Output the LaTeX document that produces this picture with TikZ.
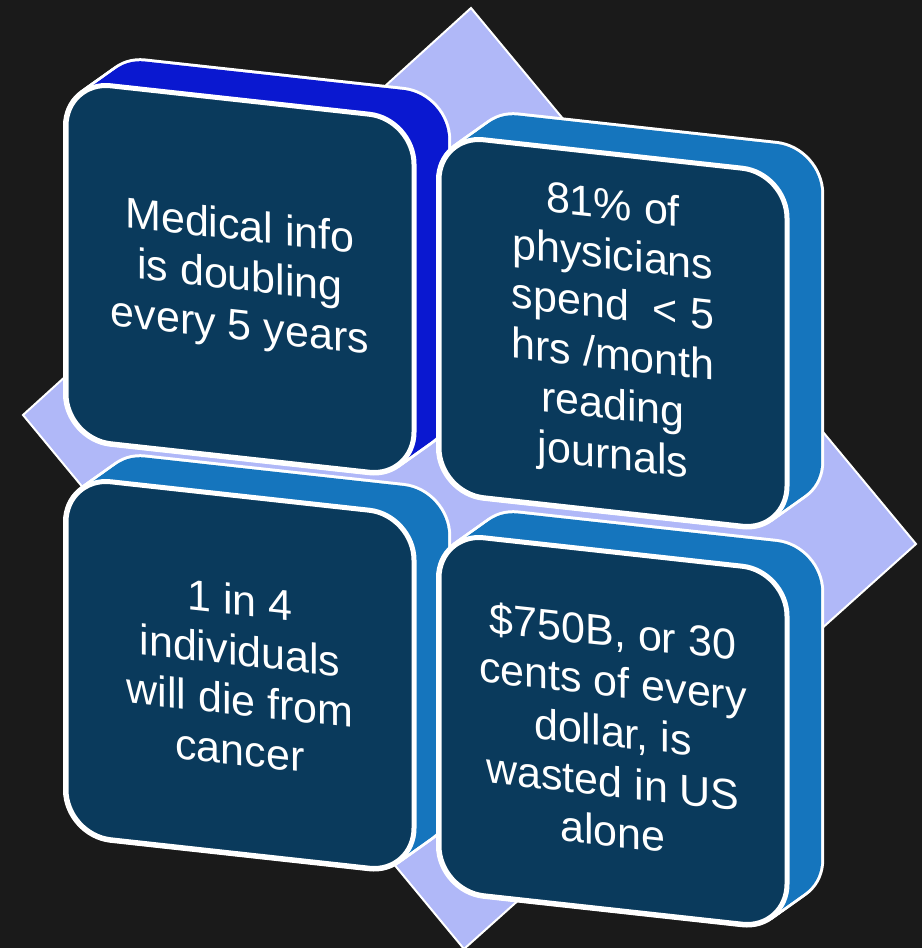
\documentclass[tikz,border=0pt]{standalone}
\usepackage{fontspec}
\setmainfont{Liberation Sans}
\definecolor{bgdark}{HTML}{1A1A1A}
\definecolor{lavender}{HTML}{B0B8F8}
\definecolor{navy}{HTML}{0A3A5C}
\definecolor{royal}{HTML}{0A18D0}
\definecolor{steel}{HTML}{1575BD}

\begin{document}
\begin{tikzpicture}[x=1pt, y=-1pt,
    face/.style={rectangle, rounded corners=45pt, minimum width=348pt,
                 minimum height=358pt, inner sep=0pt, yslant=-0.11},
    label/.style={face, fill=navy, draw=white, line width=5pt, text=white,
                  align=center, font=\fontsize{43}{50}\selectfont}]
    \useasboundingbox (0, 0) rectangle (922, 948);
    \fill[bgdark] (0, 0) rectangle (922, 948);
    % the lavender diamond behind the tiles
    \draw[fill=lavender, draw=white, line width=2pt]
          (471, 8) -- (916, 544) -- (464, 949) -- (23, 415) -- cycle;
    % tiles: back face, depth, front face with text
    \foreach \cx/\cy/\col/\nm/\txt in {
        240/675/steel/bl/{1 in 4\\individuals\\will die from\\cancer},
        613/731/steel/br/{\$750B, or 30\\cents of every\\dollar, is\\wasted in US\\alone},
        240/279/royal/tl/{Medical info\\is doubling\\every 5 years},
        613/333/steel/tr/{81\% of\\physicians\\spend~ < 5\\hrs /month\\reading\\journals}} {
      \foreach \t in {0, 0.1, ..., 1}
        \node[face, fill=white, draw=white, line width=6pt] at (\cx+38*\t, \cy-27*\t) {};
      \foreach \t in {0, 0.1, ..., 1}
        \node[face, fill=\col] at (\cx+38*\t, \cy-27*\t) {};
      \node[label] (\nm) at (\cx, \cy) {\txt};
    }
\end{tikzpicture}
\end{document}
